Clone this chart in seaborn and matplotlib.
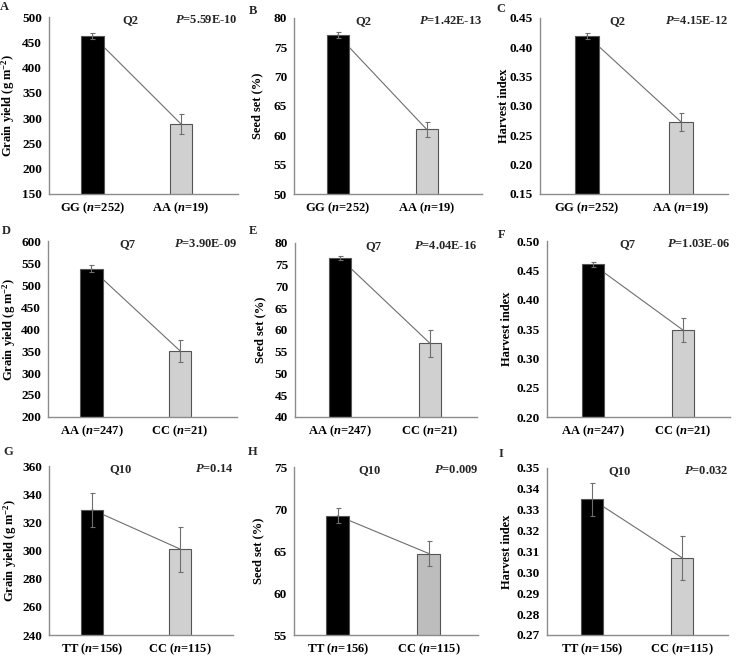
import matplotlib
matplotlib.use("Agg")
import matplotlib.pyplot as plt
import seaborn as sns
import pandas as pd

sns.set_theme(style="white")
plt.rcParams['font.family'] = ['Liberation Serif', 'DejaVu Serif']
plt.rcParams['font.weight'] = 'bold'
plt.rcParams['mathtext.fontset'] = 'custom'
plt.rcParams['mathtext.rm'] = 'Liberation Serif:bold'
plt.rcParams['mathtext.it'] = 'Liberation Serif:italic:bold'
plt.rcParams['mathtext.bf'] = 'Liberation Serif:bold'

# ---- data ----
panel_letters = ["A", "B", "C", "D", "E", "F", "G", "H", "I"]
qtl_names = ["Q2", "Q2", "Q2", "Q7", "Q7", "Q7", "Q10", "Q10", "Q10"]
p_values = ["5.59E-10", "1.42E-13", "4.15E-12", "3.90E-09", "4.04E-16", "1.03E-06", "0.14", "0.009", "0.032"]

genotypes_q2 = ["GG ($n$=252)", "AA ($n$=19)"]
genotypes_q7 = ["AA ($n$=247)", "CC ($n$=21)"]
genotypes_q10 = ["TT ($n$=156)", "CC ($n$=115)"]

grain_yield_q2 = [463, 288]
grain_yield_q2_err = [6, 20]
seed_set_q2 = [77.1, 61.0]
seed_set_q2_err = [0.5, 1.3]
harvest_q2 = [0.420, 0.273]
harvest_q2_err = [0.005, 0.015]

grain_yield_q7 = [537, 350]
grain_yield_q7_err = [8, 24]
seed_set_q7 = [76.5, 56.9]
seed_set_q7_err = [0.5, 3.0]
harvest_q7 = [0.460, 0.348]
harvest_q7_err = [0.005, 0.021]

grain_yield_q10 = [329, 301]
grain_yield_q10_err = [12, 16]
seed_set_q10 = [69.2, 64.7]
seed_set_q10_err = [0.9, 1.5]
harvest_q10 = [0.335, 0.307]
harvest_q10_err = [0.008, 0.0105]

ylabels = ["Grain yield (g m$^{\\mathbf{-2}}$)", "Seed set (%)", "Harvest index"]
yticks_list = [
    [150, 200, 250, 300, 350, 400, 450, 500],
    [50, 55, 60, 65, 70, 75, 80],
    [0.15, 0.20, 0.25, 0.30, 0.35, 0.40, 0.45],
    [200, 250, 300, 350, 400, 450, 500, 550, 600],
    [40, 45, 50, 55, 60, 65, 70, 75, 80],
    [0.20, 0.25, 0.30, 0.35, 0.40, 0.45, 0.50],
    [240, 260, 280, 300, 320, 340, 360],
    [55, 60, 65, 70, 75],
    [0.27, 0.28, 0.29, 0.30, 0.31, 0.32, 0.33, 0.34, 0.35],
]
ytick_fmt = ["{:.0f}", "{:.0f}", "{:.2f}"] * 3

panels = [
    (genotypes_q2, grain_yield_q2, grain_yield_q2_err),
    (genotypes_q2, seed_set_q2, seed_set_q2_err),
    (genotypes_q2, harvest_q2, harvest_q2_err),
    (genotypes_q7, grain_yield_q7, grain_yield_q7_err),
    (genotypes_q7, seed_set_q7, seed_set_q7_err),
    (genotypes_q7, harvest_q7, harvest_q7_err),
    (genotypes_q10, grain_yield_q10, grain_yield_q10_err),
    (genotypes_q10, seed_set_q10, seed_set_q10_err),
    (genotypes_q10, harvest_q10, harvest_q10_err),
]

# layout (pixels)
boxes = [
    (49, 238, 17, 194), (294, 482, 18, 194), (540, 728, 18, 194),
    (48, 237, 241, 417), (295, 477, 243, 417), (547, 730, 241, 417),
    (49, 233, 466, 635), (294, 478, 467, 635), (547, 728, 468, 635),
]
xlims = [(-0.49, 1.64), (-0.49, 1.62), (-0.5, 1.5),
         (-0.49, 1.64), (-0.5, 1.52), (-0.51, 1.52),
         (-0.49, 1.60), (-0.48, 1.54), (-0.5, 1.51)]
letter_pos = [(4, 7), (253, 11), (501, 9), (6, 231), (253, 231), (502, 235),
              (8, 452), (253, 452), (501, 454)]
ylabel_x = [8, 257, 504, 9, 260, 507, 10, 258, 507]
qtl_x = [0.43, 0.37, 0.41, 0.42, 0.43, 0.44, 0.39, 0.41, 0.40]

W, H = 740, 659
fig = plt.figure(figsize=(W / 100, H / 100), dpi=100)
axis_gray = "#8c8c8c"
FS = 9
TFS = 9.5

for i, (cats, vals, errs) in enumerate(panels):
    l, r, t, b = boxes[i]
    ax = fig.add_axes([l / W, 1 - b / H, (r - l) / W, (b - t) / H])
    df = pd.DataFrame({"genotype": cats, "value": vals})
    light = "#bdbdbd" if i == 7 else "#d0d0d0"
    # connecting line (behind bars)
    ax.plot([0, 1], vals, color="#6e6e6e", lw=0.8, zorder=1)
    sns.barplot(data=df, x="genotype", y="value", hue="genotype",
                palette=["#000000", light], legend=False, width=0.25,
                edgecolor="#555555", linewidth=0.8, ax=ax, zorder=2, errorbar=None)
    ax.errorbar([0, 1], vals, yerr=errs, fmt="none", ecolor="#6e6e6e",
                elinewidth=0.8, capsize=1.8, capthick=0.8, zorder=3)
    yt = yticks_list[i]
    ax.set_ylim(yt[0], yt[-1])
    ax.set_yticks(yt)
    ax.set_yticklabels([ytick_fmt[i].format(v) for v in yt])
    x0, x1 = xlims[i]
    ax.set_xlim(x0, x1)
    ax.set_xticks([0, 1])
    ax.set_xticklabels(cats)
    ax.set_xticks([x0, 0.5, x1], minor=True)
    ax.tick_params(axis='x', which='major', length=0, pad=5)
    ax.tick_params(axis='x', which='minor', length=3, width=0.8, color=axis_gray, direction='out')
    ax.tick_params(axis='y', length=3, width=0.8, color=axis_gray, direction='out', pad=2)
    for lab in ax.get_xticklabels():
        lab.set_fontsize(FS)
        lab.set_fontweight('bold')
        lab.set_color('black')
    for lab in ax.get_yticklabels():
        lab.set_fontsize(TFS)
        lab.set_fontweight('bold')
        lab.set_color('black')
    ax.set_xlabel("")
    ax.set_ylabel(ylabels[i % 3], fontsize=FS, fontweight='bold', color='black', va='center')
    ax.yaxis.set_label_coords((ylabel_x[i] - l) / (r - l), 0.5)
    for s in ["top", "right"]:
        ax.spines[s].set_visible(False)
    for s in ["left", "bottom"]:
        ax.spines[s].set_color(axis_gray)
        ax.spines[s].set_linewidth(1.0)
    ty = 1 - 3.0 / (b - t)
    ax.text(qtl_x[i], ty, qtl_names[i], transform=ax.transAxes, ha='center', va='center',
            fontsize=FS, fontweight='bold')
    ax.text(1.0, ty, "$P$=" + p_values[i], transform=ax.transAxes, ha='right', va='center',
            fontsize=FS, fontweight='bold')
    lx, ly = letter_pos[i]
    fig.text(lx / W, 1 - ly / H, panel_letters[i], ha='center', va='center',
             fontsize=FS, fontweight='bold')

fig.savefig("out.png", dpi=100)
